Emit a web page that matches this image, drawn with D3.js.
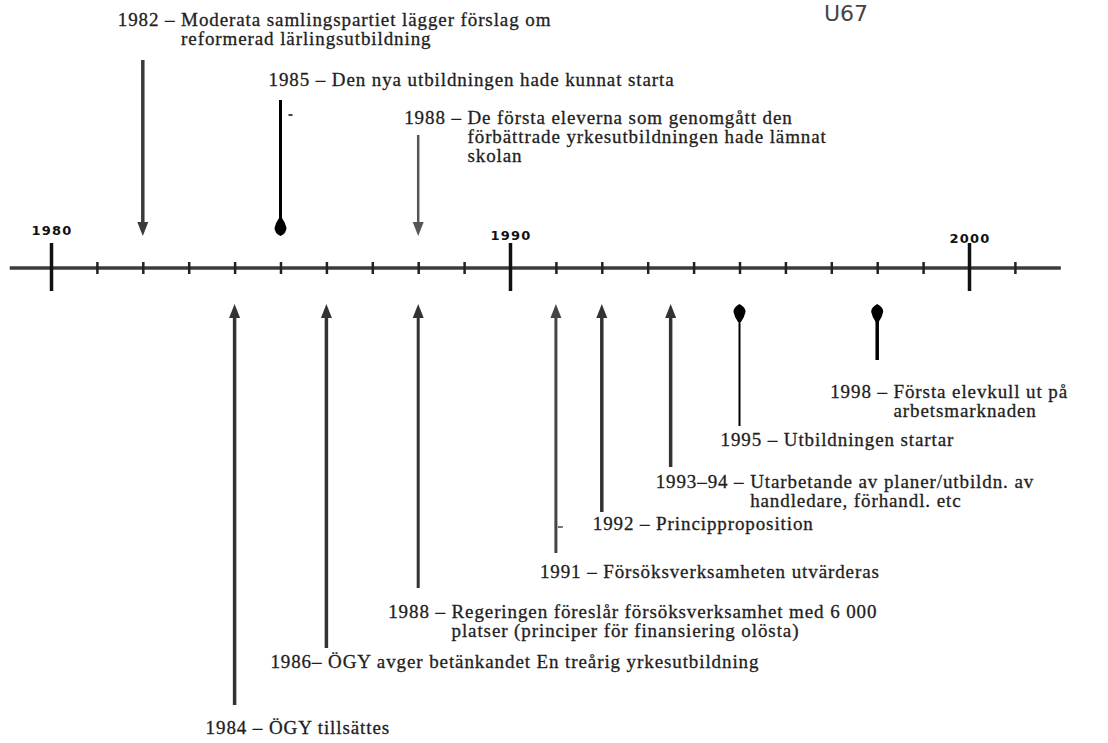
<!DOCTYPE html>
<html>
<head>
<meta charset="utf-8">
<script src="https://cdn.jsdelivr.net/npm/d3@7"></script>
<style>
	body { margin: 0; background: #fff; }
	svg text { font-family: "Liberation Serif", serif; }
</style>
</head>
<body>
<svg id="chart" width="1108" height="743"></svg>
<script>
// time line data
var axisStart = 1979.1, axisEnd = 2002;
var majorYears = [1980, 1990, 2000];
var majorLabels = ["1980", "1990", "2000"];
var minorYears = [1981, 1982, 1983, 1984, 1985, 1986, 1987, 1988, 1989, 1991, 1992, 1993, 1994, 1995, 1996, 1997, 1998, 1999, 2001];

// events above the line
var aboveYears = [1982, 1985, 1988];
var aboveHead = ["tri", "drop", "tri"];
var aboveText = [
	["1982 – ", "Moderata samlingspartiet lägger förslag om", "reformerad lärlingsutbildning"],
	["1985 – ", "Den nya utbildningen hade kunnat starta"],
	["1988 – ", "De första eleverna som genomgått den", "förbättrade yrkesutbildningen hade lämnat", "skolan"]
];

// events below the line
var belowYears = [1984, 1986, 1988, 1991, 1992, 1993.5, 1995, 1998];
var belowHead = ["tri", "tri", "tri", "tri", "tri", "tri", "drop", "drop"];
var belowText = [
	["1984 – ", "ÖGY tillsättes"],
	["1986– ", "ÖGY avger betänkandet En treårig yrkesutbildning"],
	["1988 – ", "Regeringen föreslår försöksverksamhet med 6 000", "platser (principer för finansiering olösta)"],
	["1991 – ", "Försöksverksamheten utvärderas"],
	["1992 – ", "Principproposition"],
	["1993–94 – ", "Utarbetande av planer/utbildn. av", "handledare, förhandl. etc"],
	["1995 – ", "Utbildningen startar"],
	["1998 – ", "Första elevkull ut på", "arbetsmarknaden"]
];

// layout (pixels)
var axisY = 268;
var lineH = 19;
var fontPx = 19;
var aboveLayout = [
	{dx: -25, y: 26, top: 60, w: 3.5, col: "#3a3a3a"},
	{dx: -12, y: 86, top: 100, w: 3, col: "#000"},
	{dx: -14, y: 124, top: 135, w: 2.5, col: "#555"}
];
var belowLayout = [
	{dx: -29, y: 734, bot: 705, w: 3.5, col: "#333"},
	{dx: -56, y: 668, bot: 648, w: 3.5, col: "#333"},
	{dx: -30, y: 618, bot: 588, w: 3, col: "#333"},
	{dx: -16, y: 578, bot: 553, w: 3, col: "#444"},
	{dx: -9, y: 530, bot: 512, w: 3.5, col: "#333"},
	{dx: -15, y: 488, bot: 467, w: 3.5, col: "#333"},
	{dx: -19, y: 446, bot: 426, w: 2, col: "#000"},
	{dx: -47, y: 398, bot: 360, w: 3.5, col: "#000"}
];

var svg = d3.select("#chart");
var x = d3.scaleLinear().domain([1980, 2000]).range([51, 969]);

// axis line
svg.append("line")
	.attr("x1", x(axisStart)).attr("x2", x(axisEnd))
	.attr("y1", axisY).attr("y2", axisY)
	.attr("stroke", "#3c3c3c").attr("stroke-width", 3.5);

// minor ticks
var minorAxis = d3.axisBottom(x).tickValues(minorYears).tickSize(12).tickFormat("");
var gMinor = svg.append("g").attr("transform", "translate(0," + (axisY - 6) + ")").call(minorAxis);
gMinor.select(".domain").remove();
gMinor.selectAll(".tick line").attr("stroke", "#222").attr("stroke-width", 2.5);

// major ticks
var majorAxis = d3.axisBottom(x).tickValues(majorYears).tickSize(48).tickFormat("");
var gMajor = svg.append("g").attr("transform", "translate(0," + (axisY - 25) + ")").call(majorAxis);
gMajor.select(".domain").remove();
gMajor.selectAll(".tick line").attr("stroke", "#111").attr("stroke-width", 3.5);

var labelDy = [0, 5, 8];
svg.selectAll(".ylab").data(majorYears).enter().append("text")
	.attr("class", "ylab")
	.attr("x", function(d){ return x(d) + 1; })
	.attr("y", function(d, i){ return axisY - 33 + labelDy[i]; })
	.attr("text-anchor", "middle")
	.style("font-family", "'DejaVu Sans', sans-serif")
	.style("font-weight", "bold")
	.style("font-size", "13px")
	.style("letter-spacing", "1.2px")
	.attr("fill", "#111")
	.text(function(d, i){ return majorLabels[i]; });

function head(type, dir){
	// tip at 0,0, pointing up (dir=-1) or down (dir=1)
	var s = -dir;
	if(type === "tri"){
		return "M0,0 L5.5," + (14 * s) + " L-5.5," + (14 * s) + " Z";
	}
	return "M0,0 Q6," + (3 * s) + " 6," + (8 * s) + " Q5," + (13 * s) + " 1.5," + (18 * s) +
		" L-1.5," + (18 * s) + " Q-5," + (13 * s) + " -6," + (8 * s) + " Q-6," + (3 * s) + " 0,0 Z";
}

function styleText(t){
	return t.style("font-size", fontPx + "px")
		.style("letter-spacing", "0.9px")
		.attr("fill", "#1e1e1e")
		.attr("stroke", "#1e1e1e").attr("stroke-width", 0.3);
}

function drawLabel(lines, x0, y0){
	var t = styleText(svg.append("text").attr("x", x0).attr("y", y0));
	var yr = t.append("tspan").text(lines[0]);
	t.append("tspan").text(lines[1]);
	var indent = x0 + yr.node().getComputedTextLength();
	for(var k = 2; k < lines.length; k++){
		styleText(svg.append("text").attr("x", indent).attr("y", y0 + (k - 1) * lineH))
			.text(lines[k]);
	}
}

// above events
aboveYears.forEach(function(yr, i){
	var L = aboveLayout[i];
	var tipY = axisY - 32;
	svg.append("line")
		.attr("x1", x(yr)).attr("x2", x(yr))
		.attr("y1", L.top).attr("y2", tipY - 8)
		.attr("stroke", L.col).attr("stroke-width", L.w);
	svg.append("path")
		.attr("transform", "translate(" + x(yr) + "," + tipY + ")")
		.attr("d", head(aboveHead[i], 1))
		.attr("fill", L.col);
	drawLabel(aboveText[i], x(yr) + L.dx, L.y);
});

// below events
belowYears.forEach(function(yr, i){
	var L = belowLayout[i];
	var tipY = axisY + 36;
	svg.append("line")
		.attr("x1", x(yr)).attr("x2", x(yr))
		.attr("y1", tipY + 8).attr("y2", L.bot)
		.attr("stroke", L.col).attr("stroke-width", L.w);
	svg.append("path")
		.attr("transform", "translate(" + x(yr) + "," + tipY + ")")
		.attr("d", head(belowHead[i], -1))
		.attr("fill", L.col);
	drawLabel(belowText[i], x(yr) + L.dx, L.y);
});

// small stray marks of the print
svg.append("line").attr("x1", x(1985) + 8).attr("x2", x(1985) + 12)
	.attr("y1", 115).attr("y2", 115).attr("stroke", "#000").attr("stroke-width", 1.5);
svg.append("line").attr("x1", x(1991) + 2).attr("x2", x(1991) + 7)
	.attr("y1", 527).attr("y2", 527).attr("stroke", "#444").attr("stroke-width", 1.5);

// page mark at the top edge
svg.append("text").attr("x", 824).attr("y", 21)
	.style("font-family", "'DejaVu Sans', sans-serif")
	.style("font-size", "22px").attr("fill", "#444")
	.text("U67");
</script>
</body>
</html>
